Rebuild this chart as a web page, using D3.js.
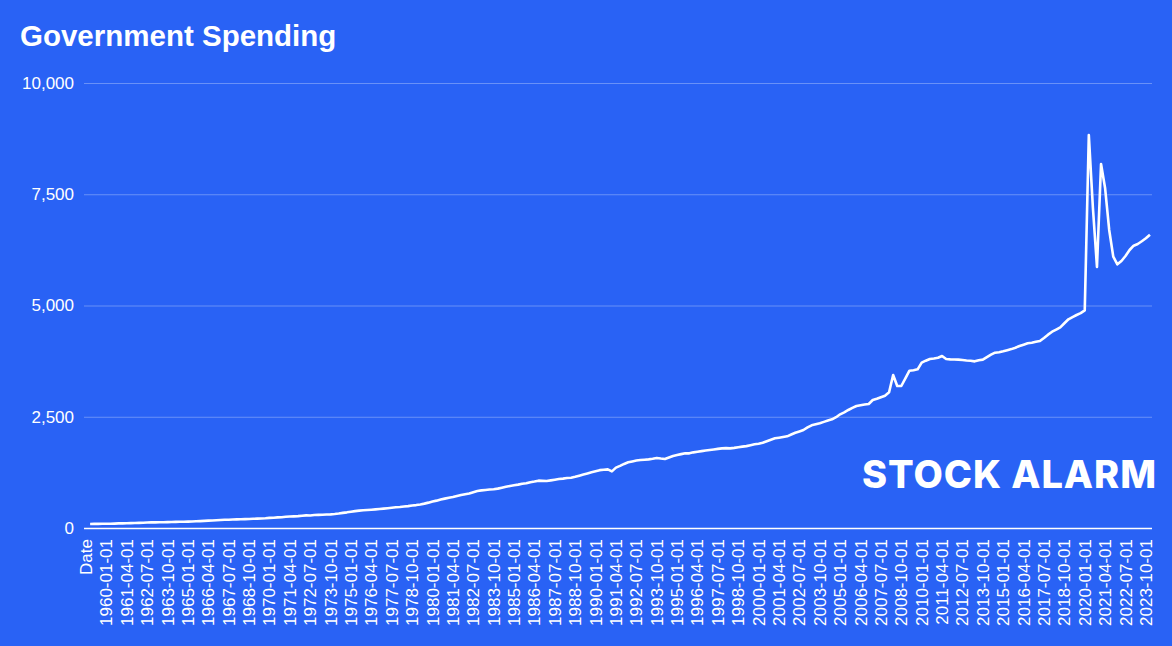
<!DOCTYPE html>
<html>
<head>
<meta charset="utf-8">
<script src="https://cdn.jsdelivr.net/npm/d3@7"></script>
<style>
  html, body { margin: 0; padding: 0; background: #2962f5; }
  svg { display: block; }
</style>
</head>
<body>
<div id="chart"></div>
<script>
// ---------- DATA ----------
const title = "Government Spending";
const watermark = "STOCK ALARM";
const headerCategory = "Date";
const firstYear = 1959;
const lastYear = 2024;
const lastQuarterMonth = "01";   // data ends 2024-01-01

// quarterly values, 1959-01-01 .. 2024-01-01
const spending = [
  90, 92, 93, 94,            // 1959
  94, 96, 99, 103,           // 1960
  105, 108, 110, 112,        // 1961
  116, 119, 122, 126,        // 1962
  127, 128, 130, 132,        // 1963
  135, 137, 139, 141,        // 1964
  143, 146, 150, 155,        // 1965
  160, 165, 170, 174,        // 1966
  180, 184, 187, 190,        // 1967
  194, 198, 200, 203,        // 1968
  207, 210, 214, 218,        // 1969
  228, 232, 238, 243,        // 1970
  252, 258, 262, 266,        // 1971
  275, 283, 280, 292,        // 1972
  295, 298, 302, 307,        // 1973
  315, 326, 340, 352,        // 1974
  367, 380, 390, 398,        // 1975
  404, 410, 418, 427,        // 1976
  436, 445, 455, 466,        // 1977
  472, 482, 492, 505,        // 1978
  515, 530, 548, 570,        // 1979
  595, 615, 640, 660,        // 1980
  680, 695, 720, 742,        // 1981
  760, 775, 805, 830,        // 1982
  845, 855, 865, 872,        // 1983
  885, 905, 925, 944,        // 1984
  960, 975, 995, 1005,       // 1985
  1030, 1045, 1064, 1060,    // 1986
  1056, 1070, 1085, 1101,    // 1987
  1110, 1122, 1131, 1150,    // 1988
  1175, 1200, 1225, 1251,    // 1989
  1275, 1300, 1310, 1318,    // 1990
  1273, 1356, 1395, 1440,    // 1991
  1476, 1495, 1515, 1528,    // 1992
  1535, 1543, 1555, 1573,    // 1993
  1560, 1551, 1585, 1618,    // 1994
  1640, 1660, 1678, 1678,    // 1995
  1700, 1715, 1728, 1740,    // 1996
  1753, 1765, 1778, 1790,    // 1997
  1795, 1790, 1800, 1815,    // 1998
  1828, 1840, 1860, 1880,    // 1999
  1895, 1917, 1950, 1985,    // 2000
  2015, 2030, 2045, 2060,    // 2001
  2100, 2140, 2170, 2202,    // 2002
  2260, 2307, 2330, 2352,    // 2003
  2385, 2415, 2442, 2490,    // 2004
  2555, 2600, 2652, 2700,    // 2005
  2742, 2760, 2775, 2787,    // 2006
  2876, 2905, 2940, 2974,    // 2007
  3049, 3438, 3191, 3191,    // 2008
  3360, 3535, 3545, 3566,    // 2009
  3715, 3760, 3798, 3810,    // 2010
  3827, 3865, 3798, 3790,    // 2011
  3785, 3783, 3775, 3765,    // 2012
  3760, 3745, 3770, 3783,    // 2013
  3840, 3895, 3940, 3950,    // 2014
  3970, 3995, 4020, 4052,    // 2015
  4090, 4120, 4150, 4165,    // 2016
  4185, 4202, 4270, 4345,    // 2017
  4411, 4460, 4510, 4600,    // 2018
  4690, 4740, 4787, 4830,    // 2019
  4890, 8830, 7200, 5865,    // 2020
  8180, 7633, 6697, 6097,    // 2021
  5925, 6000, 6112, 6247,    // 2022
  6344, 6382, 6443, 6510,    // 2023
  6591                       // 2024
];

const yTicks = [0, 2500, 5000, 7500, 10000];
const xLabelEvery = 5;

// ---------- CATEGORIES ----------
const quarterMonths = ["01", "04", "07", "10"];
const dates = [];
for (let yr = firstYear; yr <= lastYear; yr++) {
  for (const m of quarterMonths) {
    dates.push(`${yr}-${m}-01`);
    if (yr === lastYear && m === lastQuarterMonth) break;
  }
}
const categories = [headerCategory].concat(dates);
const points = dates.map((d, i) => ({ date: d, value: spending[i] }));

// ---------- LAYOUT ----------
const W = 1172, H = 646;
const bg = "#2962f5";
const plotLeft = 84, plotRight = 1152, plotTop = 83, plotBottom = 528;

const svg = d3.select("#chart").append("svg")
  .attr("width", W).attr("height", H);

svg.append("rect").attr("width", W).attr("height", H).attr("fill", bg);

const x = d3.scaleBand().domain(categories).range([plotLeft, plotRight]).padding(0);
const y = d3.scaleLinear().domain([0, 10000]).range([plotBottom, plotTop]);
const cx = d => x(d) + x.bandwidth() / 2;

// title
svg.append("text")
  .attr("x", 20).attr("y", 46)
  .attr("fill", "#ffffff")
  .attr("font-family", "Liberation Sans, Arial, sans-serif")
  .attr("font-weight", "bold")
  .attr("font-size", 29.5)
  .text(title);

// gridlines + y axis
const yAxis = d3.axisLeft(y).tickValues(yTicks).tickFormat(d3.format(","))
  .tickSize(-(plotRight - plotLeft)).tickPadding(10);
const yg = svg.append("g").attr("transform", `translate(${plotLeft},0)`).call(yAxis);
yg.select(".domain").remove();
yg.selectAll(".tick line")
  .attr("stroke", "rgba(255,255,255,0.3)").attr("stroke-width", 1);
yg.selectAll(".tick text")
  .attr("fill", "#ffffff")
  .attr("font-family", "Liberation Sans, Arial, sans-serif")
  .attr("font-size", 17);
yg.selectAll(".tick").filter(d => d === 0).select("line").remove();

// x axis labels
const xTickLabels = categories.filter((c, i) => i % xLabelEvery === 0);
const xAxis = d3.axisBottom(x).tickValues(xTickLabels).tickSize(0).tickPadding(0);
const xg = svg.append("g").attr("transform", `translate(0,${plotBottom})`).call(xAxis);
xg.select(".domain").remove();
xg.selectAll(".tick text")
  .attr("fill", "#ffffff")
  .attr("font-family", "Liberation Sans, Arial, sans-serif")
  .attr("font-size", 17)
  .attr("text-anchor", "end")
  .attr("dy", null)
  .attr("x", 0).attr("y", 0)
  .attr("transform", "translate(6,11) rotate(-90)");

// baseline
svg.append("line")
  .attr("x1", plotLeft).attr("x2", plotRight)
  .attr("y1", y(0) + 0.5).attr("y2", y(0) + 0.5)
  .attr("stroke", "#ffffff").attr("stroke-width", 1.5);

// watermark
svg.append("text")
  .attr("x", 862).attr("y", 488)
  .attr("fill", "#ffffff")
  .attr("font-family", "Inter, Lato, sans-serif")
  .attr("font-weight", 800)
  .attr("font-size", 38)
  .attr("textLength", 294)
  .attr("lengthAdjust", "spacing")
  .text(watermark);

// series line
const line = d3.line()
  .x(d => cx(d.date))
  .y(d => y(d.value));

svg.append("path")
  .datum(points)
  .attr("fill", "none")
  .attr("stroke", "#ffffff")
  .attr("stroke-width", 2.6)
  .attr("stroke-linejoin", "round")
  .attr("d", line);
</script>
</body>
</html>
